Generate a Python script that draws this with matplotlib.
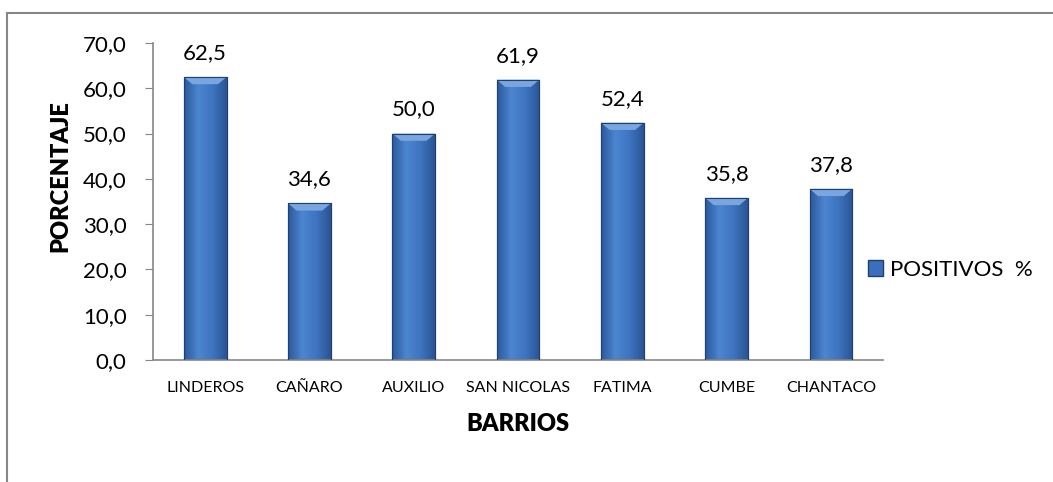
import numpy as np
import matplotlib
matplotlib.use("Agg")
import matplotlib.pyplot as plt
from matplotlib.patches import Rectangle
from matplotlib.colors import LinearSegmentedColormap

# Datos
barrios = ["LINDEROS", "CAÑARO", "AUXILIO", "SAN NICOLAS", "FATIMA", "CUMBE", "CHANTACO"]
positivos = [62.5, 34.6, 50.0, 61.9, 52.4, 35.8, 37.8]
yticks = [0, 10, 20, 30, 40, 50, 60, 70]

plt.rcParams["font.family"] = ["Lato", "DejaVu Sans"]

fig = plt.figure(figsize=(10.53, 4.82), dpi=100)
ax = fig.add_axes([0.1453, 0.2531, 0.6933, 0.6577])

x = np.arange(len(barrios))
bars = ax.bar(x, positivos, width=0.41, color="#3b6fbd", edgecolor="#1f3f6e",
              linewidth=0.8, label="POSITIVOS  %", zorder=2)

# degradado horizontal dentro de cada barra
grad = LinearSegmentedColormap.from_list("bar", ["#2b5a9c", "#4c85d0", "#3e74c0", "#2a5594"])
g = np.linspace(0, 1, 64).reshape(1, -1)
for b in bars:
    x0, w, h = b.get_x(), b.get_width(), b.get_height()
    im = ax.imshow(g, cmap=grad, extent=(x0, x0 + w, 0, h), aspect="auto", zorder=2.5)
    im.set_clip_path(b)
    # bisel superior
    ax.fill([x0, x0 + w, x0 + w * 0.8, x0 + w * 0.2], [h, h, h - 1.6, h - 1.6],
            color="#7aa6e0", zorder=3, lw=0)
    ax.plot([x0, x0 + w, x0 + w, x0, x0], [0, 0, h, h, 0], color="#1f3f6e", lw=0.8, zorder=3.5)

for xi, v in zip(x, positivos):
    ax.annotate(f"{v:.1f}".replace(".", ","), (xi, v), xytext=(0, 13), textcoords="offset points",
                ha="center", va="baseline", fontsize=16)

ax.set_xlim(-0.5, len(barrios) - 0.5)
ax.set_ylim(0, 70)
ax.set_yticks(yticks)
ax.set_yticklabels([f"{t:.1f}".replace(".", ",") for t in yticks], fontsize=16)
ax.set_xticks(x)
ax.set_xticklabels(barrios, fontsize=11.5)
ax.tick_params(axis="x", length=0, pad=15)
ax.tick_params(axis="y", length=6, color="#868686", pad=13)

for s in ["top", "right"]:
    ax.spines[s].set_visible(False)
for s in ["left", "bottom"]:
    ax.spines[s].set_color("#868686")
    ax.spines[s].set_linewidth(1.2)

ax.set_xlabel("BARRIOS", fontsize=17, fontweight="heavy", labelpad=13)
ax.set_ylabel("PORCENTAJE", fontsize=17, fontweight="heavy", labelpad=8, y=0.58)

fig.legend(handles=[Rectangle((0, 0), 1, 1, facecolor="#3b6fbd", edgecolor="#1f3f6e")],
           labels=["POSITIVOS  %"], loc="center left", bbox_to_anchor=(0.805, 0.44),
           frameon=False, fontsize=16, handlelength=0.7, handleheight=0.7, handletextpad=0.3)

# marco exterior del gráfico
fig.patches.append(Rectangle((7 / 1053, -0.1), 1.2, 1 - 13 / 482 + 0.1, transform=fig.transFigure,
                             fill=False, edgecolor="#868686", linewidth=1.5))

fig.savefig("out.png", dpi=100)
